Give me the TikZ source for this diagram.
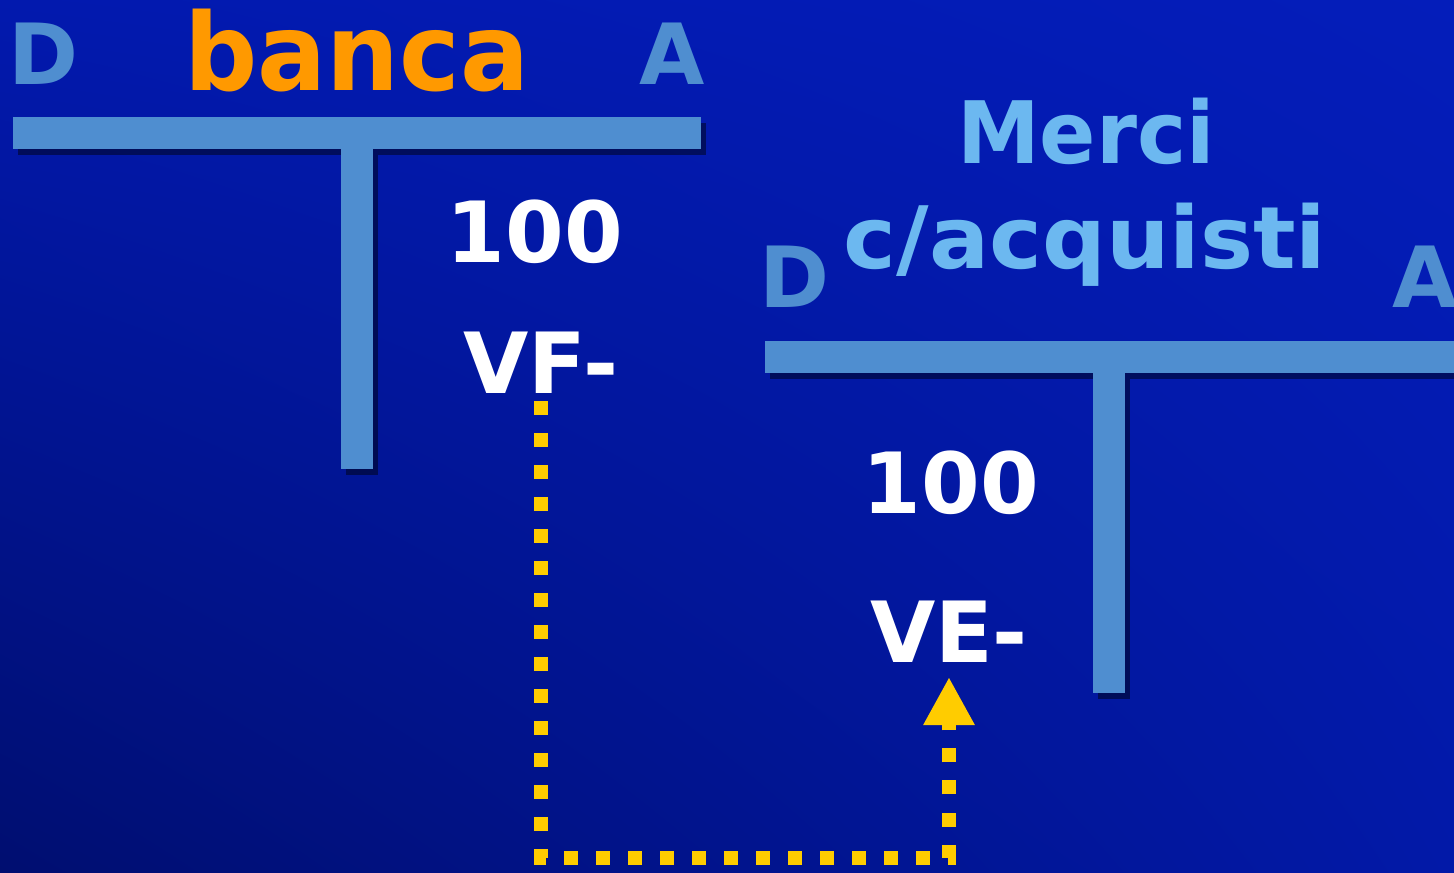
\documentclass[tikz,border=0pt]{standalone}
\usepackage{fontspec}
\setmainfont{DejaVu Sans}
\usetikzlibrary{arrows.meta,shadows,shadings}
\definecolor{bgdark}{HTML}{000E70}
\definecolor{bgmid}{HTML}{0219AE}
\definecolor{bglow}{HTML}{0219A8}
\definecolor{bglight}{HTML}{041DBA}
\definecolor{barblue}{HTML}{4F8ED0}
\definecolor{titleorange}{HTML}{FF9900}
\definecolor{titlesky}{HTML}{6CB8F0}
\definecolor{flowyellow}{HTML}{FFCC00}
\tikzset{
  tbar/.style={fill=barblue,drop shadow={shadow xshift=1.4pt,shadow yshift=-1.8pt,fill=black,opacity=0.45}},
  side/.style={text=barblue,font=\bfseries\fontsize{24}{24}\selectfont,inner sep=0pt,anchor=base},
  title/.style={font=\bfseries\fontsize{24.5}{24.5}\selectfont,inner sep=0pt,anchor=base},
  amount/.style={text=white,font=\bfseries\fontsize{24}{24}\selectfont,inner sep=0pt,outer sep=0.08cm,anchor=base},
  flow/.style={draw=flowyellow,line width=0.14cm,dash pattern=on 0.14cm off 0.18cm,
    -{Triangle[width=0.48cm,length=0.48cm]}}
}

\begin{document}
\begin{tikzpicture}[x=0.01cm,y=-0.01cm]
  \shade[upper left=bgmid,upper right=bglight,lower left=bgdark,lower right=bglow]
    (0,0) rectangle (1454,872);
  \useasboundingbox (0,0) rectangle (1454,872);
  \fill[tbar] (13,117) rectangle (701,149);
  \fill[tbar] (341,149) rectangle (373,469);
  \fill[tbar] (765,341) rectangle (1470,373);
  \fill[tbar] (1093,373) rectangle (1125,693);
  \node[side] (bancad) at (44,84) {D};
  \node[side] (bancaa) at (672,84) {A};
  \node[title,text=titleorange,font=\bfseries\fontsize{30.5}{30.5}\selectfont] (banca) at (357,90) {\scalebox{0.955}[1]{banca}};
  \node[side] (mercid) at (795,307) {D};
  \node[side] (mercia) at (1425,307) {A};
  \node[title,text=titlesky] (merci) at (1086,163) {\scalebox{0.965}[1]{Merci}};
  \node[title,text=titlesky] (acquisti) at (1085,268) {\scalebox{1.035}[1]{c/acquisti}};
  \node[amount] (bancaval) at (535,262) {100};
  \node[amount] (vf) at (541,393) {VF-};
  \node[amount] (mercival) at (951,513) {100};
  \node[amount,outer sep=0.15cm] (ve) at (949,662) {VE-};
  \coordinate (bend) at (745,858);
  \draw[flow] (vf.south) |- (bend) -| (ve.south);
\end{tikzpicture}
\end{document}
